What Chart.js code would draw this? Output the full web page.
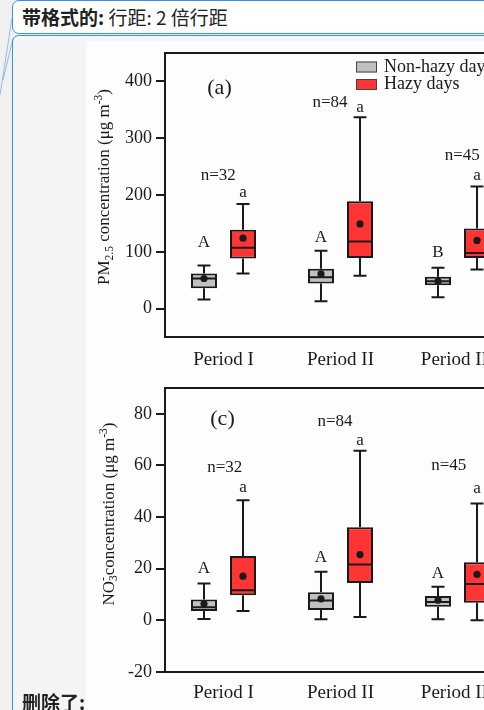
<!DOCTYPE html>
<html>
<head>
<meta charset="utf-8">
<script src="https://cdn.jsdelivr.net/npm/chart.js@4/dist/chart.umd.min.js"></script>
<style>
  html, body { margin: 0; padding: 0; }
  body {
    width: 484px; height: 710px; overflow: hidden; position: relative;
    background: #f0f0f0;
    font-family: "Noto Sans CJK SC", "Noto Sans", sans-serif;
  }
  .balloon {
    position: absolute; left: 12px; width: 540px;
    border: 1.5px solid #3d8fe0; border-radius: 7px; box-sizing: border-box;
  }
  #b1 { top: 0; height: 34px; background: #fff; font-size: 19px; line-height: 31px; padding-left: 9px; color: #222; }
  #b2 { top: 35px; height: 720px; background: #f5f5f5; }
  #img { position: absolute; left: 86px; top: 42px; width: 420px; height: 680px; background: #fdfdfd; }
  #del { position: absolute; left: 22px; top: 692px; font-size: 19px; font-weight: bold; line-height: 20px; color: #222; }
  #links { position: absolute; left: 0; top: 0; }
  canvas { position: absolute; left: 0; }
  #chartA { top: 40px; }
  #chartC { top: 375px; }
</style>
</head>
<body>
<svg id="links" width="20" height="120">
  <line x1="12" y1="18" x2="0" y2="95" stroke="#8fbde8" stroke-width="1"/>
  <line x1="13" y1="38" x2="3" y2="80" stroke="#8fbde8" stroke-width="1"/>
</svg>
<div class="balloon" id="b1"><b>带格式的:</b> 行距: 2 倍行距</div>
<div class="balloon" id="b2"></div>
<div id="img"></div>
<canvas id="chartA" width="540" height="335"></canvas>
<canvas id="chartC" width="540" height="335"></canvas>
<div id="del">删除了:</div>

<script>
// categorías / series
const periods = ["Period I", "Period II", "Period III"];
const seriesNames = ["Non-hazy days", "Hazy days"];
const sampleN = [32, 84, 45];

// (a) PM2.5
const pmNonMin = [16, 13, 20];
const pmNonQ1 = [36, 44, 41];
const pmNonMed = [53, 55, 48];
const pmNonQ3 = [62, 70, 56];
const pmNonMax = [76, 102, 72];
const pmNonMean = [53, 61, 48];
const pmHazyMin = [62, 58, 69];
const pmHazyQ1 = [88, 89, 89];
const pmHazyMed = [107, 118, 98];
const pmHazyQ3 = [139, 189, 141];
const pmHazyMax = [184, 337, 215];
const pmHazyMean = [124, 149, 120];
const pmTicks = [0, 100, 200, 300, 400];
const pmLetterNon = ["A", "A", "B"];
const pmLetterHazy = ["a", "a", "a"];

// (c) NO3-
const no3NonMin = [0.5, 0.4, 0.4];
const no3NonQ1 = [3.6, 4.0, 5.3];
const no3NonMed = [5.1, 7.7, 7.1];
const no3NonQ3 = [8.1, 10.9, 9.4];
const no3NonMax = [14.3, 18.8, 13.0];
const no3NonMean = [6.4, 8.3, 7.8];
const no3HazyMin = [3.6, 1.3, 0];
const no3HazyQ1 = [9.7, 14.5, 6.8];
const no3HazyMed = [11.7, 21.6, 14.1];
const no3HazyQ3 = [24.9, 36.1, 22.5];
const no3HazyMax = [46.5, 65.7, 45.3];
const no3HazyMean = [17.1, 25.5, 17.8];
const no3Ticks = [-20, 0, 20, 40, 60, 80];
const no3LetterNon = ["A", "A", "A"];
const no3LetterHazy = ["a", "a", "a"];

// anchors of the annotations, in data units (letters + n=)
const pmLetterNonY = [117, 125, 99];
const pmLetterHazyY = [205, 354, 234];
const pmCountY = [235, 362, 270];
const pmCountX = [-0.045, 0.91, 2.04];
const no3LetterNonY = [20.0, 24.3, 18.1];
const no3LetterHazyY = [51.3, 69.8, 51.1];
const no3CountY = [59.3, 77.2, 60];
const no3CountX = [0.01, 0.953, 1.925];

const SERIF = "'Liberation Serif', 'Times New Roman', serif";
const INK = "#1a1a1a";
const GREY = "#c0c0c0";
const RED = "#ff3434";

Chart.defaults.font.family = SERIF;
Chart.defaults.color = INK;

// dibuja bigotes, mediana, media y textos
const boxExtras = {
  id: "boxExtras",
  afterDatasetsDraw(chart, args, opts) {
    const ctx = chart.ctx;
    const ys = chart.scales.y;
    ctx.save();
    ctx.strokeStyle = INK;
    ctx.fillStyle = INK;
    ctx.lineWidth = 2;
    opts.stats.forEach((s, di) => {
      chart.getDatasetMeta(di).data.forEach((bar, i) => {
        const cx = bar.x, w = bar.width;
        const yLo = ys.getPixelForValue(s.min[i]);
        const yHi = ys.getPixelForValue(s.max[i]);
        const yQ1 = ys.getPixelForValue(s.q1[i]);
        const yQ3 = ys.getPixelForValue(s.q3[i]);
        const yMed = ys.getPixelForValue(s.med[i]);
        ctx.beginPath();
        ctx.moveTo(cx, yQ3); ctx.lineTo(cx, yHi);
        ctx.moveTo(cx, yQ1); ctx.lineTo(cx, yLo);
        ctx.moveTo(cx - 6.5, yHi); ctx.lineTo(cx + 6.5, yHi);
        ctx.moveTo(cx - 6.5, yLo); ctx.lineTo(cx + 6.5, yLo);
        ctx.moveTo(cx - w / 2, yMed); ctx.lineTo(cx + w / 2, yMed);
        ctx.stroke();
        ctx.beginPath();
        ctx.arc(cx, ys.getPixelForValue(s.mean[i]), 3.6, 0, Math.PI * 2);
        ctx.fill();
      });
    });
    ctx.restore();
  },
  afterDraw(chart, args, opts) {
    const ctx = chart.ctx;
    const xs = chart.scales.x, ys = chart.scales.y;
    const area = chart.chartArea;
    ctx.save();
    // marco
    ctx.strokeStyle = INK;
    ctx.lineWidth = 2;
    ctx.strokeRect(area.left, area.top, area.right - area.left, area.bottom - area.top);

    ctx.fillStyle = INK;
    ctx.textAlign = "center";
    ctx.textBaseline = "middle";
    ctx.font = "17px " + SERIF;
    // letras de significancia
    opts.letters.forEach((lt, di) => {
      const meta = chart.getDatasetMeta(di);
      lt.text.forEach((t, i) => {
        ctx.fillText(t, meta.data[i].x, ys.getPixelForValue(lt.y[i]));
      });
    });
    // n=
    sampleN.forEach((n, i) => {
      ctx.fillText("n=" + n, xs.getPixelForValue(opts.countX[i]), ys.getPixelForValue(opts.countY[i]));
    });
    // (a) / (c)
    ctx.font = "22px " + SERIF;
    ctx.fillText(opts.tag, area.left + opts.tagPos[0], area.top + opts.tagPos[1]);

    // leyenda
    if (opts.legend) {
      ctx.font = "18px " + SERIF;
      ctx.textAlign = "left";
      ctx.lineWidth = 1;
      [GREY, RED].forEach((c, k) => {
        const bx = area.left + 191, by = area.top + 8.5 + k * 17.5;
        ctx.fillStyle = c;
        ctx.fillRect(bx, by, 21, 11);
        ctx.strokeStyle = "#444";
        ctx.strokeRect(bx + 0.5, by + 0.5, 20, 10);
        ctx.fillStyle = INK;
        ctx.fillText(seriesNames[k], bx + 28, by + 5.5);
      });
    }

    // título del eje y con sub/superíndices
    const runs = opts.title;
    const big = 17, small = 11.5;
    const widthOf = (r) => {
      if (r.stack) {
        ctx.font = small + "px " + SERIF;
        return Math.max(ctx.measureText(r.sub).width, ctx.measureText(r.sup).width);
      }
      ctx.font = (r.k === "n" ? big : small) + "px " + SERIF;
      return ctx.measureText(r.t).width;
    };
    const total = runs.reduce((a, r) => a + widthOf(r), 0);
    ctx.translate(opts.titleX, (area.top + area.bottom) / 2 + opts.titleDy);
    ctx.rotate(-Math.PI / 2);
    ctx.textAlign = "left";
    ctx.textBaseline = "alphabetic";
    let x = -total / 2;
    runs.forEach((r) => {
      const w = widthOf(r);
      if (r.stack) {
        ctx.font = small + "px " + SERIF;
        ctx.fillText(r.sub, x, 9);
        ctx.fillText(r.sup, x, -2);
      } else {
        ctx.font = (r.k === "n" ? big : small) + "px " + SERIF;
        ctx.fillText(r.t, x, r.k === "sub" ? 9.5 : r.k === "sup" ? -1 : 5.5);
      }
      x += w;
    });
    ctx.restore();
  }
};

function makePanel(id, p) {
  return new Chart(document.getElementById(id), {
    type: "bar",
    data: {
      labels: periods,
      datasets: [
        {
          label: seriesNames[0],
          data: p.non.q1.map((v, i) => [v, p.non.q3[i]]),
          backgroundColor: GREY,
        },
        {
          label: seriesNames[1],
          data: p.hazy.q1.map((v, i) => [v, p.hazy.q3[i]]),
          backgroundColor: RED,
        },
      ].map((d) => Object.assign(d, {
        borderColor: INK,
        borderWidth: 2,
        borderSkipped: false,
        categoryPercentage: 0.667,
        barPercentage: 0.667,
      })),
    },
    options: {
      responsive: false,
      animation: false,
      layout: { padding: { top: p.padTop, right: 24, bottom: 0, left: 0 } },
      plugins: {
        legend: { display: false },
        tooltip: { enabled: false },
        boxExtras: {
          stats: [p.non, p.hazy],
          letters: [p.lettersNon, p.lettersHazy],
          countX: p.countX,
          countY: p.countY,
          tag: p.tag,
          tagPos: p.tagPos,
          legend: p.legend,
          title: p.title,
          titleX: p.titleX,
          titleDy: p.titleDy,
        },
      },
      scales: {
        x: {
          grid: { display: false },
          border: { display: false },
          ticks: { font: { size: 19 }, padding: p.xPad, maxRotation: 0, autoSkip: false },
          afterFit: (s) => { s.height = p.xHeight; },
        },
        y: {
          min: p.min,
          max: p.max,
          grid: { drawOnChartArea: false, drawTicks: true, tickLength: 9, lineWidth: 2, color: INK },
          border: { display: false },
          ticks: { font: { size: 18, lineHeight: 1 }, padding: 4 },
          afterBuildTicks: (s) => { s.ticks = p.ticks.map((v) => ({ value: v })); },
          afterFit: (s) => { s.width = 165; },
        },
      },
    },
    plugins: [boxExtras],
  });
}

makePanel("chartA", {
  non: { min: pmNonMin, q1: pmNonQ1, med: pmNonMed, q3: pmNonQ3, max: pmNonMax, mean: pmNonMean },
  hazy: { min: pmHazyMin, q1: pmHazyQ1, med: pmHazyMed, q3: pmHazyQ3, max: pmHazyMax, mean: pmHazyMean },
  lettersNon: { text: pmLetterNon, y: pmLetterNonY },
  lettersHazy: { text: pmLetterHazy, y: pmLetterHazyY },
  countX: pmCountX, countY: pmCountY,
  min: -50, max: 450, ticks: pmTicks,
  padTop: 12, xHeight: 38, xPad: 4,
  tag: "(a)", tagPos: [54.5, 35], legend: true,
  title: [
    { t: "PM", k: "n" }, { t: "2.5", k: "sub" },
    { t: " concentration (\u03bcg m", k: "n" }, { t: "-3", k: "sup" }, { t: ")", k: "n" },
  ],
  titleX: 103, titleDy: -8,
});

makePanel("chartC", {
  non: { min: no3NonMin, q1: no3NonQ1, med: no3NonMed, q3: no3NonQ3, max: no3NonMax, mean: no3NonMean },
  hazy: { min: no3HazyMin, q1: no3HazyQ1, med: no3HazyMed, q3: no3HazyQ3, max: no3HazyMax, mean: no3HazyMean },
  lettersNon: { text: no3LetterNon, y: no3LetterNonY },
  lettersHazy: { text: no3LetterHazy, y: no3LetterHazyY },
  countX: no3CountX, countY: no3CountY,
  min: -20, max: 90, ticks: no3Ticks,
  padTop: 11, xHeight: 38, xPad: 2,
  tag: "(c)", tagPos: [57.5, 31], legend: false,
  title: [
    { t: "NO", k: "n" }, { stack: true, sub: "3", sup: "-" },
    { t: "concentration (\u03bcg m", k: "n" }, { t: "-3", k: "sup" }, { t: ")", k: "n" },
  ],
  titleX: 108, titleDy: -16,
});
</script>
</body>
</html>
